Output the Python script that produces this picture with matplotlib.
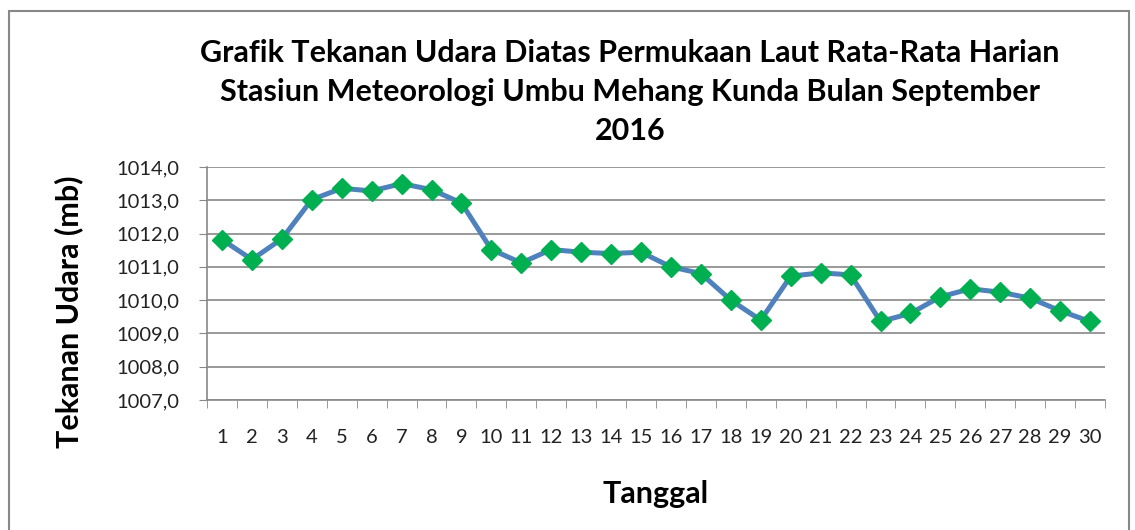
import matplotlib.pyplot as plt
from matplotlib.patches import Rectangle
from matplotlib.ticker import FixedLocator

plt.rcParams['font.family'] = ['Lato', 'DejaVu Sans']

# Tekanan udara rata-rata harian (mb), September 2016
tanggal = list(range(1, 31))
tekanan = [1011.82, 1011.22, 1011.84, 1013.02, 1013.36, 1013.28, 1013.50, 1013.32, 1012.92, 1011.52,
           1011.12, 1011.52, 1011.44, 1011.40, 1011.44, 1011.00, 1010.80, 1010.00, 1009.40, 1010.72,
           1010.82, 1010.76, 1009.36, 1009.60, 1010.10, 1010.34, 1010.24, 1010.06, 1009.68, 1009.36]
yticks = [1007, 1008, 1009, 1010, 1011, 1012, 1013, 1014]

W, H = 1135, 530
fig = plt.figure(figsize=(W / 100, H / 100), dpi=100)
ax = fig.add_axes([207 / W, (H - 400) / H, (1105 - 207) / W, (400 - 167) / H])

ax.plot(tanggal, tekanan, color='#4F81BD', lw=3.6, marker='D', ms=10,
        mfc='#00B050', mec='#00B050', zorder=3)

ax.set_xlim(0.5, 30.5)
ax.set_ylim(1007, 1014)
ax.set_yticks(yticks)
ax.set_yticklabels([f'{v:.1f}'.replace('.', ',') for v in yticks], fontsize=14.5, color='#222222')
ax.set_xticks(tanggal)
ax.set_xticklabels([str(t) for t in tanggal], fontsize=14.5, color='#222222')
ax.xaxis.set_minor_locator(FixedLocator([t + 0.5 for t in range(0, 31)]))
ax.tick_params(axis='x', which='major', length=0, pad=21)
ax.tick_params(axis='x', which='minor', length=6, color='#888888', direction='out')
ax.tick_params(axis='y', length=6, color='#888888', direction='out', pad=14)

ax.grid(axis='y', color='#888888', lw=1.2)
ax.set_axisbelow(True)
for s in ['top', 'right']:
    ax.spines[s].set_visible(False)
for s in ['left', 'bottom']:
    ax.spines[s].set_color('#888888')
    ax.spines[s].set_linewidth(1.2)

ax.set_ylabel('Tekanan Udara (mb)', fontsize=22, fontweight='bold')
ax.yaxis.set_label_coords((83 - 207) / 898, (400 - 312) / 233)
ax.set_xlabel('Tanggal', fontsize=22, fontweight='bold', labelpad=24)

fig.text(630 / W, 1 - 92 / H,
         'Grafik Tekanan Udara Diatas Permukaan Laut Rata-Rata Harian\n'
         'Stasiun Meteorologi Umbu Mehang Kunda Bulan September\n2016',
         ha='center', va='center', fontsize=22, fontweight='bold', linespacing=1.5)

fig.patches.append(Rectangle((9 / W, -0.05), (1129 - 9) / W, 1.05 - 11 / H,
                             transform=fig.transFigure, fill=False,
                             edgecolor='#888888', lw=1.5))

plt.savefig('out.png', dpi=100)
